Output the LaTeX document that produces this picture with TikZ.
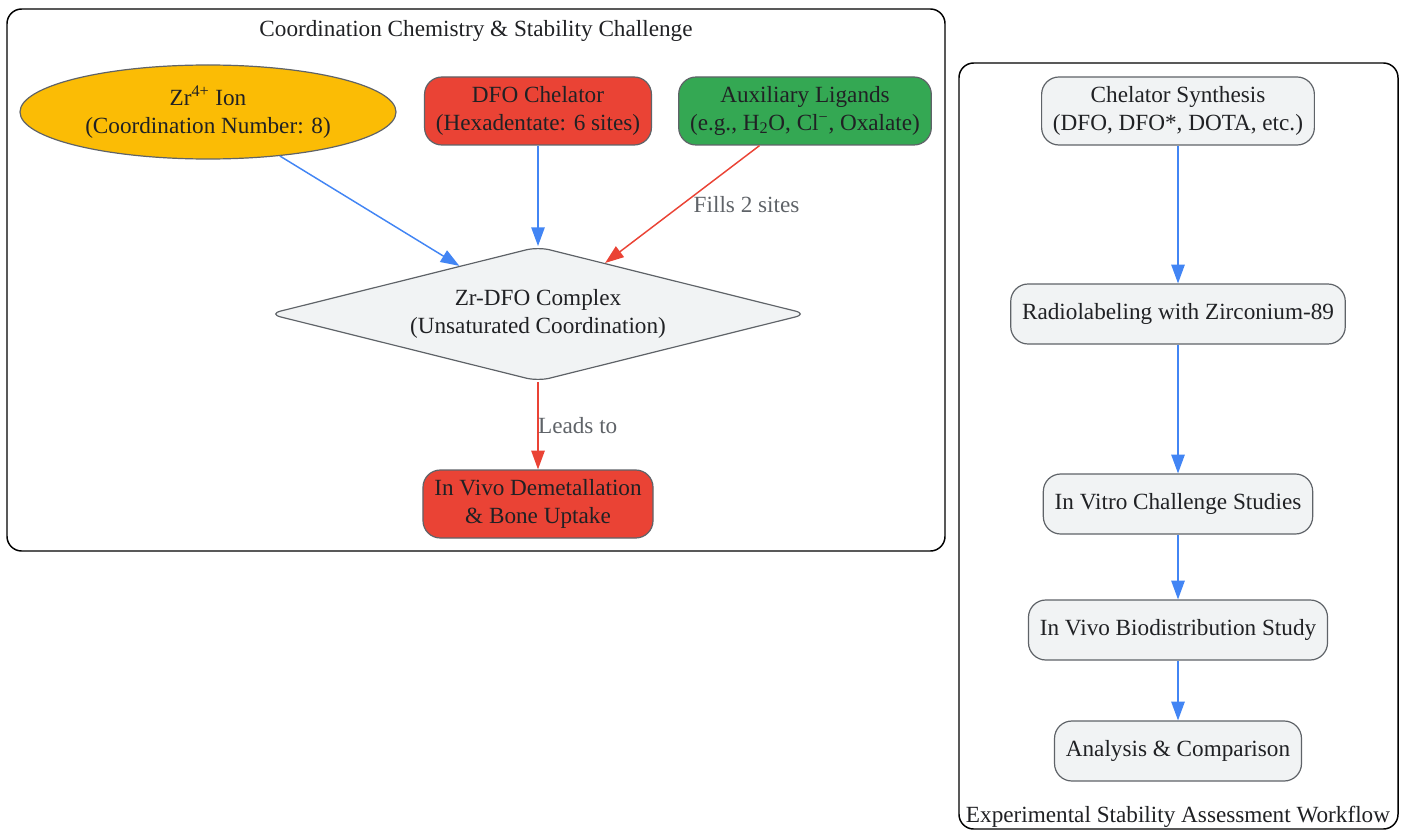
\documentclass[tikz,border=0pt]{standalone}
\usepackage{fontspec}
\setmainfont{Liberation Serif}
\usetikzlibrary{shapes.geometric,arrows.meta}

\definecolor{zryellow}{HTML}{FBBC05}
\definecolor{dfored}{HTML}{EA4335}
\definecolor{auxgreen}{HTML}{34A853}
\definecolor{boxgray}{HTML}{F1F3F4}
\definecolor{bordergray}{HTML}{5F6368}
\definecolor{arrowblue}{HTML}{4285F4}
\definecolor{arrowred}{HTML}{EA4335}
\definecolor{txtgray}{HTML}{202124}
\definecolor{labelgray}{HTML}{5F6368}

\begin{document}
\begin{tikzpicture}[
  x=0.75pt, y=-0.75pt,
  every node/.style={font=\fontsize{17.4}{21}\selectfont, text=txtgray, align=center},
  box/.style={rectangle, draw=bordergray, line width=0.9pt, rounded corners=13pt, fill=boxgray, inner xsep=8.5pt, minimum height=45pt},
  tallbox/.style={box, minimum height=51pt},
  cluster/.style={draw=black, line width=1.1pt, rounded corners=11pt},
  line/.style={-{Triangle[length=14pt,width=10pt]}, line width=1.1pt, draw=arrowblue},
  redline/.style={line, draw=arrowred},
  elabel/.style={text=labelgray, inner sep=0pt}
]
\useasboundingbox (0,0) rectangle (1405,831);

% Clusters
\draw [cluster] (7,9) rectangle (945,551);
\node (titleA) at (476,31) {Coordination Chemistry \& Stability Challenge};
\draw [cluster] (959,63) rectangle (1398,829);
\node (titleB) at (1178,817) {Experimental Stability Assessment Workflow};

% Coordination chemistry
\node (zr) [ellipse, draw=bordergray, line width=0.9pt, fill=zryellow, minimum width=282pt, minimum height=70.5pt, inner sep=0pt] at (208,112)
  {Zr\textsuperscript{4+} Ion\\(Coordination Number: 8)};
\node (dfo) [tallbox, fill=dfored] at (538,111) {DFO Chelator\\(Hexadentate: 6 sites)};
\node (aux) [tallbox, fill=auxgreen] at (805,111)
  {Auxiliary Ligands\\(e.g., H\textsubscript{2}O, Cl\textsuperscript{−}, Oxalate)};
\node (cplx) [diamond, aspect=4, draw=bordergray, line width=0.9pt, fill=boxgray, rounded corners=9pt, minimum width=404pt, minimum height=101pt, inner sep=0pt] at (538,314)
  {Zr-DFO Complex\\(Unsaturated Coordination)};
\node (demet) [tallbox, fill=dfored] at (538,504) {In Vivo Demetallation\\\& Bone Uptake};

% Workflow
\node (synth) [tallbox] at (1178,111) {Chelator Synthesis\\(DFO, DFO*, DOTA, etc.)};
\node (radio) [box] at (1178,314) {Radiolabeling with Zirconium-89};
\node (vitro) [box] at (1178,504) {In Vitro Challenge Studies};
\node (vivo) [box] at (1178,630) {In Vivo Biodistribution Study};
\node (anal) [box] at (1178,751) {Analysis \& Comparison};

% Arrows
\draw [line] (zr) -- (cplx);
\draw [line] (dfo) -- (cplx);
\draw [redline] (aux) -- (cplx) node [elabel, midway, anchor=west, xshift=8pt] {Fills 2 sites};
\draw [redline] (cplx) -- (demet) node [elabel, midway, anchor=west, xshift=-0.5pt] {Leads to};
\draw [line] (synth) -- (radio);
\draw [line] (radio) -- (vitro);
\draw [line] (vitro) -- (vivo);
\draw [line] (vivo) -- (anal);

\end{tikzpicture}
\end{document}
